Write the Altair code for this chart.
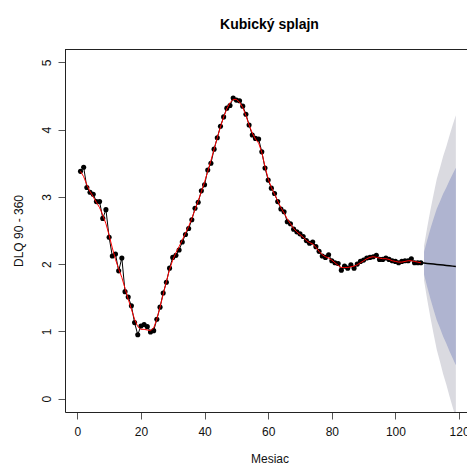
import altair as alt
import pandas as pd

# Observed series (month 1..108)
months = list(range(1, 109))
observed = [
    3.38, 3.44, 3.14, 3.07, 3.04, 2.93, 2.93, 2.68, 2.81, 2.40,
    2.12, 2.15, 1.90, 2.09, 1.59, 1.51, 1.38, 1.13, 0.95, 1.08,
    1.10, 1.07, 0.99, 1.01, 1.18, 1.36, 1.57, 1.73, 1.94, 2.10,
    2.13, 2.21, 2.33, 2.44, 2.53, 2.66, 2.83, 2.92, 3.09, 3.18,
    3.40, 3.50, 3.71, 3.88, 4.05, 4.19, 4.32, 4.36, 4.47, 4.44,
    4.43, 4.35, 4.23, 4.07, 3.92, 3.87, 3.86, 3.67, 3.43, 3.25,
    3.13, 3.05, 2.93, 2.82, 2.78, 2.63, 2.60, 2.52, 2.48, 2.45,
    2.41, 2.35, 2.31, 2.33, 2.26, 2.19, 2.12, 2.10, 2.14, 2.05,
    2.02, 2.01, 1.91, 1.97, 1.94, 1.99, 1.94, 2.00, 2.04, 2.06,
    2.09, 2.10, 2.11, 2.13, 2.07, 2.07, 2.09, 2.07, 2.05, 2.04,
    2.02, 2.04, 2.05, 2.05, 2.08, 2.02, 2.02, 2.02,
]
# Fitted cubic smoothing spline (red)
fitted = [
    3.38, 3.30, 3.18, 3.08, 3.00, 2.92, 2.84, 2.73, 2.60, 2.43,
    2.24, 2.07, 1.93, 1.80, 1.64, 1.48, 1.33, 1.18, 1.07, 1.03,
    1.03, 1.02, 1.01, 1.05, 1.18, 1.36, 1.55, 1.74, 1.92, 2.06,
    2.17, 2.26, 2.36, 2.46, 2.56, 2.68, 2.81, 2.94, 3.08, 3.22,
    3.38, 3.54, 3.71, 3.88, 4.04, 4.19, 4.31, 4.40, 4.45, 4.45,
    4.41, 4.33, 4.21, 4.07, 3.95, 3.86, 3.80, 3.66, 3.45, 3.27,
    3.14, 3.04, 2.94, 2.84, 2.76, 2.67, 2.60, 2.53, 2.48, 2.44,
    2.40, 2.35, 2.32, 2.30, 2.25, 2.19, 2.14, 2.11, 2.09, 2.06,
    2.02, 1.98, 1.95, 1.95, 1.95, 1.96, 1.97, 1.99, 2.02, 2.05,
    2.08, 2.10, 2.11, 2.10, 2.09, 2.08, 2.08, 2.07, 2.05, 2.04,
    2.03, 2.03, 2.04, 2.05, 2.05, 2.04, 2.03, 2.02,
]

# Forecast (months 109..119)
fc_months = list(range(109, 120))
fc_mean = [2.015, 2.01, 2.005, 2.0, 1.995, 1.99, 1.985, 1.98, 1.975, 1.97, 1.965]
lo80 = [1.845, 1.66, 1.485, 1.32, 1.165, 1.05, 0.925, 0.82, 0.705, 0.60, 0.495]
hi80 = [2.185, 2.36, 2.525, 2.68, 2.825, 2.93, 3.045, 3.14, 3.245, 3.34, 3.435]
lo95 = [1.755, 1.47, 1.205, 0.96, 0.725, 0.55, 0.365, 0.21, 0.035, -0.13, -0.285]
hi95 = [2.275, 2.55, 2.805, 3.04, 3.265, 3.43, 3.605, 3.75, 3.915, 4.07, 4.215]

x_ticks = [0, 20, 40, 60, 80, 100, 120]
y_ticks = [0, 1, 2, 3, 4, 5]

obs_df = pd.DataFrame({"t": months, "v": observed, "f": fitted})
fc_df = pd.DataFrame({"t": fc_months, "m": fc_mean, "lo80": lo80, "hi80": hi80,
                      "lo95": lo95, "hi95": hi95})
fc_line_df = pd.DataFrame({"t": [months[-1]] + fc_months,
                           "m": [observed[-1]] + fc_mean})

W, H = 402, 363
FONT = "Liberation Sans"

xs = alt.Scale(domain=[-3.87, 122.5], nice=False, zero=False)
ys = alt.Scale(domain=[-0.2, 5.2], nice=False, zero=False)

x_axis = alt.Axis(values=x_ticks, grid=False, title="Mesiac", labelFont=FONT,
                  titleFont=FONT, labelFontSize=12, titleFontSize=12,
                  titleFontWeight="normal", labelColor="#111", titleColor="#111",
                  tickSize=7, tickColor="#555", domainColor="#222", format="d",
                  labelPadding=7, titleX=204.5, titleY=46,
                  titleBaseline="middle", labelFlush=False)
y_axis = alt.Axis(values=y_ticks, grid=False, title="DLQ 90 - 360", labelFont=FONT,
                  titleFont=FONT, labelFontSize=12, titleFontSize=12,
                  titleFontWeight="normal", labelColor="#111", titleColor="#111",
                  tickSize=7, tickColor="#555", domainColor="#222", format="d",
                  labelAngle=270, labelAlign="center", labelBaseline="alphabetic",
                  labelPadding=8, titleX=-47, titleBaseline="middle",
                  labelFlush=False)

base_obs = alt.Chart(obs_df)
base_fc = alt.Chart(fc_df)

outer = base_fc.mark_area(color="#DADAE0", clip=True).encode(
    x=alt.X("t:Q", scale=xs, axis=x_axis),
    y=alt.Y("lo95:Q", scale=ys, axis=y_axis),
    y2="hi95:Q",
)
inner = base_fc.mark_area(color="#AFB4D0", clip=True).encode(
    x=alt.X("t:Q", scale=xs),
    y=alt.Y("lo80:Q", scale=ys),
    y2="hi80:Q",
)
data_line = base_obs.mark_line(color="#000", strokeWidth=1).encode(
    x=alt.X("t:Q", scale=xs), y=alt.Y("v:Q", scale=ys))
pts = base_obs.mark_circle(color="#000", size=26, opacity=1).encode(
    x=alt.X("t:Q", scale=xs), y=alt.Y("v:Q", scale=ys))
fit_line = base_obs.mark_line(color="#FF0000", strokeWidth=1).encode(
    x=alt.X("t:Q", scale=xs), y=alt.Y("f:Q", scale=ys))
fc_line = alt.Chart(fc_line_df).mark_line(color="#000", strokeWidth=1.5).encode(
    x=alt.X("t:Q", scale=xs), y=alt.Y("m:Q", scale=ys))
top_rule = alt.Chart(obs_df.head(1)).mark_rule(color="#222", strokeWidth=1).encode(
    x=alt.value(0), x2=alt.value(W), y=alt.value(0.5))

chart = alt.layer(outer, inner, data_line, pts, fit_line, fc_line, top_rule).properties(
    width=W, height=H,
    padding={"left": 65, "top": 49, "right": 0, "bottom": 56},
    autosize=alt.AutoSizeParams(type="none"),
    title=alt.TitleParams("Kubický splajn", font=FONT, fontSize=14, fontWeight="bold",
                          color="#000", anchor="middle", dx=3.5, offset=6,
                          baseline="alphabetic"),
).configure_view(stroke=None).configure(background="white")

chart.save("out.html", embed_options={"renderer": "svg", "actions": False})
